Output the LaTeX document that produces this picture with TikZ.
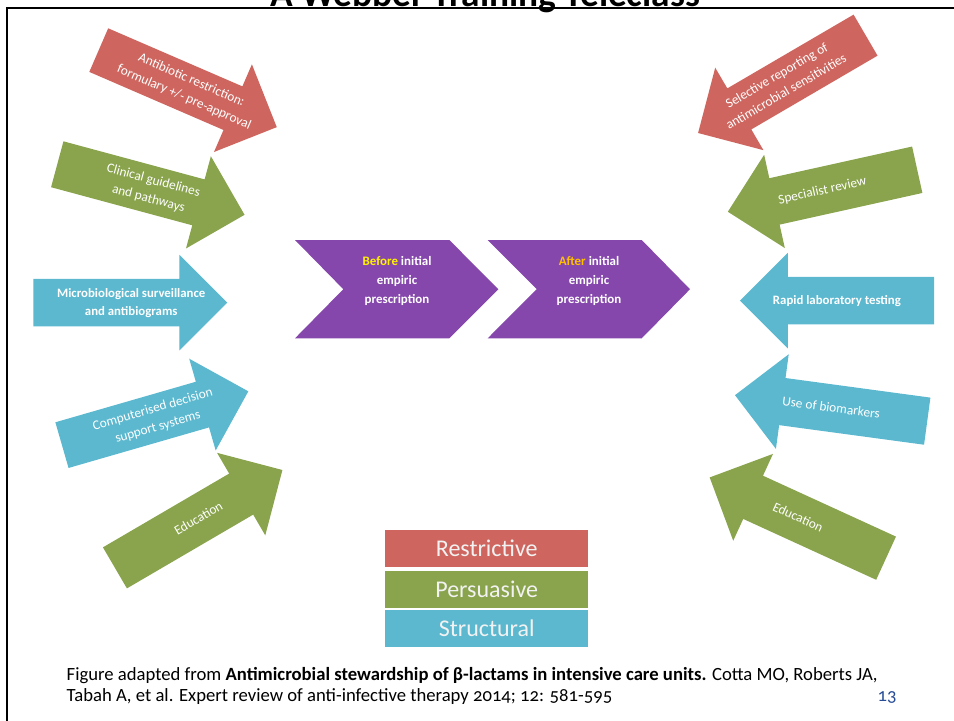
\documentclass[tikz,border=0pt]{standalone}
\usepackage{fontspec}
\setmainfont{Carlito}[Numbers=OldStyle]
\usetikzlibrary{shapes.arrows,positioning}

\definecolor{restr}{RGB}{206,102,95}
\definecolor{persu}{RGB}{137,164,76}
\definecolor{struc}{RGB}{91,184,207}
\definecolor{chev}{RGB}{133,71,172}
\definecolor{pagenum}{RGB}{38,76,150}

% box that fills the shaft, #1 pushes the text towards the tip
\newcommand{\shafttext}[2]{\parbox[c][35.25pt][c]{109.875pt}{\centering
  \hspace*{#1}\begin{tabular}{@{}c@{}}#2\end{tabular}\hspace*{-#1}}}

\begin{document}
\begin{tikzpicture}[x=0.75pt,y=-0.75pt,
  arrowbox/.style={single arrow,single arrow head extend=18pt,
    single arrow tip angle=90,minimum height=145.5pt,minimum width=71.25pt,
    inner sep=0pt,anchor=tail,text=white,font=\fontsize{10}{14}\selectfont},
  leftward/.style={arrowbox,shape border rotate=180},
  boldtext/.style={font=\fontsize{9.6}{13.75}\selectfont\bfseries},
  chevtext/.style={text=white,align=center,font=\fontsize{9.7}{14}\selectfont\bfseries},
  keybox/.style={minimum width=152.25pt,minimum height=27.5pt,inner sep=0pt,
    text=white!95!black,font=\fontsize{18}{20}\selectfont}]
  \useasboundingbox (0,0) rectangle (954,721);
  \clip (0,0) rectangle (954,721);

  \node[anchor=base,font=\fontsize{28}{32}\selectfont\bfseries] (title) at (485,7) {A Webber Training Teleclass};
  \draw[line width=1.8pt] (7,721) -- (7,8) -- (954,8);

  % left side
  \node[arrowbox,fill=restr,rotate=-23.4] (abx) at (98.5,50) {\shafttext{9pt}{Antibiotic restriction:\\formulary +/- pre-approval}};
  \node[arrowbox,fill=persu,rotate=-15.1] (guide) at (57,164.2) {\shafttext{9pt}{Clinical guidelines\\and pathways}};
  \node[arrowbox,boldtext,fill=struc] (micro) at (33,302.7) {\shafttext{9pt}{Microbiological surveillance\\and antibiograms}};
  \node[arrowbox,fill=struc,rotate=16.1] (cdss) at (61.7,445.2) {\shafttext{9pt}{Computerised decision\\support systems}};
  \node[arrowbox,fill=persu,rotate=30.3] (eduL) at (114.7,568) {\shafttext{9pt}{Education}};

  % right side
  \node[leftward,fill=restr,rotate=30.3] (sel) at (865.8,35) {\shafttext{-9pt}{Selective reporting of\\antimicrobial sensitivities}};
  \node[leftward,fill=persu,rotate=12.5] (spec) at (917.5,169.7) {\shafttext{-9pt}{Specialist review}};
  \node[leftward,boldtext,fill=struc] (rapid) at (934.3,300.7) {\shafttext{-9pt}{Rapid laboratory testing}};
  \node[leftward,fill=struc,rotate=-7.7] (bio) at (927.5,421.2) {\shafttext{-9pt}{Use of biomarkers}};
  \node[leftward,fill=persu,rotate=-24.6] (eduR) at (886.3,558.3) {\shafttext{-9pt}{Education}};

  % chevrons
  \fill[chev] (295,240) -- (449.3,240) -- (498.3,289.2) -- (449.3,338.3) -- (295,338.3) -- (343.3,289.2) -- cycle;
  \fill[chev] (487.7,240) -- (641.7,240) -- (690,289.2) -- (641.7,338.3) -- (487.7,338.3) -- (536.7,289.2) -- cycle;
  \node[chevtext] (before) at (397,281) {\textcolor{yellow}{Before} initial\\empiric\\prescription};
  \node[chevtext] (after) at (589,281) {\textcolor[RGB]{255,192,0}{After} initial\\empiric\\prescription};

  % key
  \node[keybox,fill=restr] (keyR) at (486.7,548.3) {Restrictive};
  \node[keybox,fill=persu,below=3pt of keyR] (keyP) {Persuasive};
  \node[keybox,fill=struc,below=1.5pt of keyP] (keyS) {Structural};

  % reference
  \node[anchor=base west,font=\fontsize{14}{16}\selectfont] (citeA) at (62,680) {Figure adapted from \textbf{Antimicrobial stewardship of β-lactams in intensive care units.} Cotta MO, Roberts JA,};
  \node[anchor=base west,font=\fontsize{14}{16}\selectfont] (citeB) at (62,701) {Tabah A, et al. Expert review of anti-infective therapy 2014; 12: 581-595};
  \node[anchor=base,text=pagenum,font=\fontsize{14}{16}\selectfont] (pg) at (887,701) {13};
\end{tikzpicture}
\end{document}
